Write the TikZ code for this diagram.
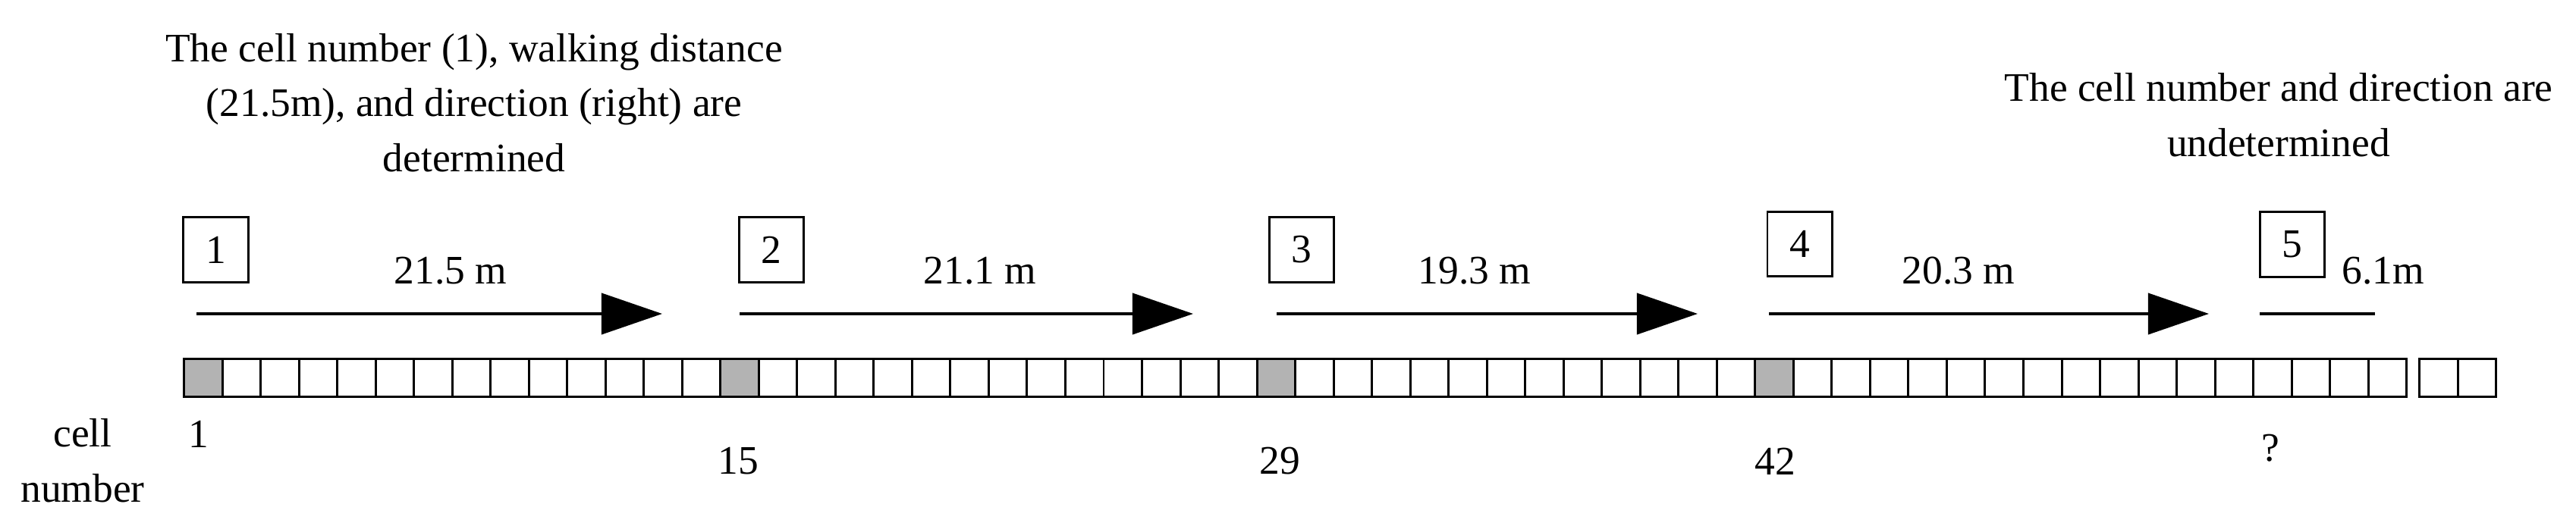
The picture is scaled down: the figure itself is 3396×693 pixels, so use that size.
\documentclass[tikz,border=0pt]{standalone}
\usepackage{fontspec}
\setmainfont{Liberation Serif}
\usetikzlibrary{arrows.meta}
\definecolor{cellgray}{HTML}{B3B3B3}
\tikzset{
	testo/.style={font=\fontsize{15.2}{20.5}\selectfont, inner sep=0pt},
	numbox/.style={testo, draw, line width=0.85pt, minimum size=0.85cm},
	walk/.style={line width=1.1pt, -{Triangle[length=0.8cm,width=0.54cm]}},
	walkopen/.style={line width=1.1pt},
	cella/.style={draw, line width=0.85pt},
}
\begin{document}
\begin{tikzpicture}[x=0.01cm,y=-0.01cm]
			\useasboundingbox (0,0) rectangle (3396,693);

			\node[testo, align=center, anchor=base] (noteDet) at (625,226) {The cell number (1), walking distance\\(21.5m), and direction (right) are\\determined};
			\node[testo, align=center, anchor=base] (noteUndet) at (3004,206) {The cell number and direction are\\undetermined};

			\foreach \n/\x/\y in {1/284.5/329.5, 2/1017/329.5, 3/1716/329.5, 4/2372.5/322, 5/3021.5/322.5}
				\node[numbox] (box\n) at (\x,\y) {\n};

			\foreach \n/\x/\t in {1/594/21.5 m, 2/1292/21.1 m, 3/1944/19.3 m, 4/2582/20.3 m, 5/3142/6.1m}
				\node[testo, anchor=base] (dist\n) at (\x,374) {\t};

			\foreach \n/\s/\e in {1/259/873, 2/975/1573, 3/1683/2238, 4/2332/2912}{
				\coordinate (start\n) at (\s,414);
				\coordinate (end\n) at (\e,414);
				\draw[walk] (start\n) -- (end\n);
			}
			\coordinate (start5) at (2979,414);
			\coordinate (end5) at (3131,414);
			\draw[walkopen] (start5) -- (end5);

			\foreach \i in {0,14,28,41}
				\fill[cellgray] ({242.5+\i*50.52},473.5) rectangle +(50.52,50);
			\foreach \i in {0,...,57}
				\draw[cella] ({242.5+\i*50.52},473.5) rectangle +(50.52,50);
			\foreach \i in {0,1}
				\draw[cella] ({3189.5+\i*50.5},473.5) rectangle +(50.5,50);

			\node[testo, align=center, anchor=base] (cellLabel) at (109,662) {cell\\number};
			\node[testo, anchor=base] (cell1) at (262,590) {1};
			\node[testo, anchor=base] (cell15) at (973,625) {15};
			\node[testo, anchor=base] (cell29) at (1687,625) {29};
			\node[testo, anchor=base] (cell42) at (2340,626) {42};
			\node[testo, anchor=base] (cellUnk) at (2993,608) {?};
		\end{tikzpicture}
\end{document}
